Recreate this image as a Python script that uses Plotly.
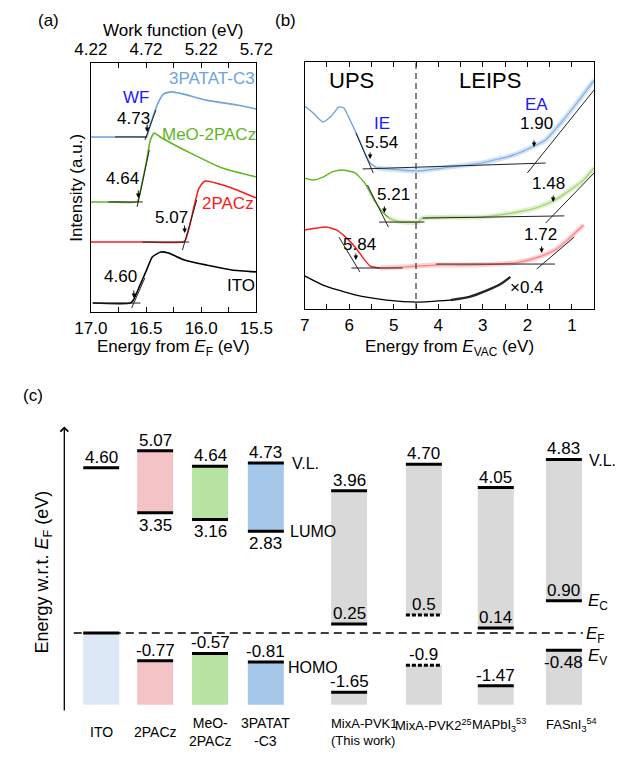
import plotly.graph_objects as go

W, H = 632, 757
FONT = "Liberation Sans, Arial, sans-serif"

# ---------------- Panel (a): secondary-electron cutoff (UPS) ----------------
a_E_3patat = [17.0, 16.777, 16.554, 16.494, 16.469, 16.426, 16.383, 16.340, 16.272, 16.169, 15.955, 15.672, 15.500]
a_I_3patat = [0.703, 0.703, 0.703, 0.703, 0.739, 0.799, 0.847, 0.876, 0.884, 0.876, 0.851, 0.831, 0.815]
a_E_meo = [17.0, 16.811, 16.580, 16.563, 16.529, 16.494, 16.460, 16.426, 16.383, 16.323, 16.100, 15.809, 15.500]
a_I_meo = [0.442, 0.442, 0.442, 0.462, 0.530, 0.610, 0.691, 0.719, 0.707, 0.691, 0.639, 0.578, 0.542]
a_E_2pacz = [17.0, 16.529, 16.160, 16.143, 16.109, 16.066, 16.023, 15.980, 15.955, 15.869, 15.723, 15.612, 15.500]
a_I_2pacz = [0.281, 0.281, 0.281, 0.289, 0.337, 0.422, 0.494, 0.522, 0.526, 0.518, 0.498, 0.478, 0.458]
a_E_ito = [16.983, 16.640, 16.614, 16.554, 16.494, 16.443, 16.366, 16.297, 16.152, 15.955, 15.723, 15.500]
a_I_ito = [0.036, 0.036, 0.048, 0.108, 0.169, 0.221, 0.241, 0.237, 0.209, 0.189, 0.169, 0.161]
# fitted baseline / tangent segments (E, I)
a_fit_E = [[16.78, 16.49], [16.51, 16.41], [16.84, 16.53], [16.58, 16.47],
           [16.53, 16.11], [16.17, 16.04], [16.98, 16.55], [16.63, 16.51]]
a_fit_I = [[0.703, 0.703], [0.691, 0.811], [0.442, 0.442], [0.422, 0.651],
           [0.281, 0.281], [0.249, 0.450], [0.036, 0.036], [0.016, 0.137]]
a_wf_values = ["4.73", "4.64", "5.07", "4.60"]
a_bottom_ticks = [17.0, 16.75, 16.5, 16.25, 16.0, 15.75, 15.5]
a_bottom_labels = ["17.0", "", "16.5", "", "16.0", "", "15.5"]
a_top_ticks = [4.22, 4.47, 4.72, 4.97, 5.22, 5.47, 5.72]
a_top_labels = ["4.22", "", "4.72", "", "5.22", "", "5.72"]

# ---------------- Panel (b): UPS / LEIPS ----------------
b_E_3patat_ups = [7.00, 6.81, 6.59, 6.40, 6.23, 6.12, 5.95, 5.80, 5.65, 5.53, 5.38]
b_I_3patat_ups = [0.822, 0.794, 0.757, 0.781, 0.818, 0.814, 0.753, 0.696, 0.632, 0.591, 0.571]
b_E_3patat_n = [5.38, 5.16, 4.46, 3.73, 3.03, 2.32, 1.89, 1.59, 1.25, 0.89, 0.50]
b_I_3patat_n = [0.571, 0.567, 0.559, 0.575, 0.591, 0.623, 0.656, 0.684, 0.753, 0.834, 0.927]
b_E_meo_ups = [7.00, 6.81, 6.59, 6.38, 6.17, 5.87, 5.65, 5.44, 5.23, 5.10]
b_I_meo_ups = [0.530, 0.522, 0.534, 0.555, 0.563, 0.551, 0.510, 0.441, 0.389, 0.368]
b_E_meo_n = [5.10, 5.01, 4.80, 4.46, 4.35, 3.73, 3.03, 2.32, 1.74, 1.38, 1.04, 0.74, 0.50]
b_I_meo_n = [0.368, 0.360, 0.352, 0.352, 0.368, 0.372, 0.372, 0.389, 0.413, 0.441, 0.482, 0.522, 0.571]
b_E_2pacz_ups = [7.00, 6.72, 6.51, 6.29, 6.08, 5.87, 5.65, 5.53, 5.31]
b_I_2pacz_ups = [0.320, 0.328, 0.332, 0.320, 0.291, 0.251, 0.198, 0.174, 0.166]
b_E_2pacz_n = [5.31, 4.80, 4.09, 3.39, 2.66, 2.17, 1.74, 1.38, 1.10, 0.74]
b_I_2pacz_n = [0.166, 0.170, 0.178, 0.178, 0.182, 0.190, 0.211, 0.239, 0.279, 0.340]
b_E_ito = [7.00, 6.59, 5.87, 5.16, 4.46, 3.73, 3.30, 2.88, 2.60, 2.38]
b_I_ito = [0.134, 0.097, 0.057, 0.036, 0.028, 0.036, 0.049, 0.077, 0.101, 0.130]
b_fit_E = [[5.85, 5.46], [5.70, 1.59], [2.00, 0.50],
           [5.59, 5.12], [5.33, 4.31], [4.35, 1.17], [1.59, 0.50],
           [6.23, 5.76], [5.95, 4.80], [4.05, 1.38], [1.79, 0.95]]
b_fit_I = [[0.713, 0.551], [0.567, 0.591], [0.551, 0.887],
           [0.502, 0.332], [0.352, 0.352], [0.368, 0.377], [0.348, 0.551],
           [0.291, 0.150], [0.166, 0.166], [0.182, 0.182], [0.162, 0.291]]
b_ticks = [7, 6.5, 6, 5.5, 5, 4.5, 4, 3.5, 3, 2.5, 2, 1.5, 1, 0.5]
b_tick_labels = ["7", "", "6", "", "5", "", "4", "", "3", "", "2", "", "1", ""]

# ---------------- Panel (c): energy level diagram ----------------
materials = ["ITO", "2PACz", "MeO-<br>2PACz", "3PATAT<br>-C3"]
materials_pvk = ["MixA-PVK1<br>(This work)", "MixA-PVK2<sup>25</sup>",
                 "MAPbI<sub>3</sub><sup>53</sup>", "FASnI<sub>3</sub><sup>54</sup>"]
vl = [4.60, 5.07, 4.64, 4.73, 3.96, 4.70, 4.05, 4.83]
vl_txt = ["4.60", "5.07", "4.64", "4.73", "3.96", "4.70", "4.05", "4.83"]
lumo = [None, 3.35, 3.16, 2.83, 0.25, 0.5, 0.14, 0.90]
lumo_txt = [None, "3.35", "3.16", "2.83", "0.25", "0.5", "0.14", "0.90"]
homo = [0.0, -0.77, -0.57, -0.81, -1.65, -0.9, -1.47, -0.48]
homo_txt = [None, "-0.77", "-0.57", "-0.81", "-1.65", "-0.9", "-1.47", "-0.48"]
bar_floor = -2.0

# layout (positions / styles)
slot_x = [89, 146, 204, 263, 351, 430, 506, 578]
pvk_label_left = [330, 397, 479, 557]
bar_w = 38
fills = ["#dce8f5", "#f4c3c6", "#b7e4a2", "#a5c8ea", "#d9d9d9", "#d9d9d9", "#d9d9d9", "#d9d9d9"]
dashed = [False, False, False, False, False, True, False, False]
lumo_below = [False, True, True, True, False, False, False, False]
homo_below = [False, False, False, False, False, False, False, True]

C_BLUE = "#6fa3dc"
C_GREEN = "#62b61f"
C_RED = "#ff1a1a"
C_GREEN_L = "#9ed36a"
C_RED_L = "#ff8080"
C_BLUE_L = "#7dafe5"
C_LBL = "#1a1aff"

fig = go.Figure()


def line(x, y, color, width, xa, ya, dash=None, opacity=1.0, shape="spline"):
    fig.add_trace(go.Scatter(x=x, y=y, mode="lines", xaxis=xa, yaxis=ya,
                             line=dict(color=color, width=width, dash=dash, shape=shape, smoothing=0.5),
                             opacity=opacity, showlegend=False, hoverinfo="skip"))


# ---- panel (a) traces
for E, I, c in [(a_E_3patat, a_I_3patat, C_BLUE), (a_E_meo, a_I_meo, C_GREEN),
                (a_E_2pacz, a_I_2pacz, C_RED), (a_E_ito, a_I_ito, "black")]:
    line(E, I, c, 1.6, "x", "y")
for E, I in zip(a_fit_E, a_fit_I):
    line(E, I, "#222222", 1.0, "x", "y", shape="linear")
# invisible trace for top axis
fig.add_trace(go.Scatter(x=[4.22, 5.72], y=[0, 0], mode="markers", marker=dict(opacity=0),
                         xaxis="x2", yaxis="y", showlegend=False, hoverinfo="skip"))

# ---- panel (b) traces
for E, I, c in [(b_E_3patat_n, b_I_3patat_n, C_BLUE_L), (b_E_meo_n, b_I_meo_n, C_GREEN_L),
                (b_E_2pacz_n, b_I_2pacz_n, C_RED_L)]:
    line(E, I, c, 5, "x3", "y3", opacity=0.35)
    line(E, I, c, 1.2, "x3", "y3")
line(b_E_3patat_ups, b_I_3patat_ups, C_BLUE, 1.4, "x3", "y3")
line(b_E_meo_ups, b_I_meo_ups, C_GREEN, 1.4, "x3", "y3")
line(b_E_2pacz_ups, b_I_2pacz_ups, C_RED, 1.4, "x3", "y3")
line(b_E_ito[:6], b_I_ito[:6], "black", 1.4, "x3", "y3")
line(b_E_ito[5:], b_I_ito[5:], "black", 2.4, "x3", "y3", opacity=0.85)
for E, I in zip(b_fit_E, b_fit_I):
    line(E, I, "#222222", 1.0, "x3", "y3", shape="linear")

# ---- panel (c) bars
up_x = [slot_x[i] for i in range(8) if lumo[i] is not None]
up_base = [lumo[i] for i in range(8) if lumo[i] is not None]
up_h = [vl[i] - lumo[i] for i in range(8) if lumo[i] is not None]
up_c = [fills[i] for i in range(8) if lumo[i] is not None]
fig.add_trace(go.Bar(x=up_x, y=up_h, base=up_base, width=bar_w, marker=dict(color=up_c, line=dict(width=0)),
                     xaxis="x4", yaxis="y4", showlegend=False, hoverinfo="skip"))
fig.add_trace(go.Bar(x=slot_x, y=[h - bar_floor for h in homo], base=[bar_floor] * 8, width=bar_w,
                     marker=dict(color=fills, line=dict(width=0)),
                     xaxis="x4", yaxis="y4", showlegend=False, hoverinfo="skip"))

# level lines
for i in range(8):
    xs = [slot_x[i] - bar_w / 2, slot_x[i] + bar_w / 2]
    for lv in (vl[i], lumo[i], homo[i]):
        if lv is None:
            continue
        is_dash = dashed[i] and lv != vl[i]
        line(xs, [lv, lv], "black", 3, "x4", "y4", dash="4px,2px" if is_dash else None, shape="linear")

ann = []


def txt(x, y, s, size=17, color="black", xref="paper", yref="paper", xanchor="center", yanchor="middle",
        angle=0, yshift=0, align="center"):
    ann.append(dict(x=x, y=y, text=s, xref=xref, yref=yref, showarrow=False, xanchor=xanchor, yanchor=yanchor,
                    textangle=angle, yshift=yshift, align=align,
                    font=dict(size=size, color=color, family=FONT)))


def arrow(x, y, xref, yref, length=9):
    ann.append(dict(x=x, y=y, xref=xref, yref=yref, ax=0, ay=-length, showarrow=True, arrowhead=2,
                    arrowsize=0.9, arrowwidth=1, arrowcolor="black", text="", standoff=0,
                    font=dict(size=10)))


def px(xp, yp):
    return xp / W, 1 - yp / H


# panel labels & titles
for s, (xp, yp) in [("(a)", (33, 21)), ("(b)", (284, 21)), ("(c)", (17, 395))]:
    txt(*px(xp, yp), s, size=17)
txt(*px(165, 30), "Work function (eV)", size=17)
txt(*px(165, 348), "Energy from <i>E</i><sub>F</sub> (eV)", size=17)
txt(*px(457, 348), "Energy from <i>E</i><sub>VAC</sub> (eV)", size=17)
txt(*px(62, 188), "Intensity (a.u.)", size=17, angle=-90)
txt(*px(28, 572), "Energy w.r.t. <i>E</i><sub>F</sub> (eV)", size=18, angle=-90)

# panel (a) annotations (data coords)
txt(15.90, 0.936, "3PATAT-C3", color=C_BLUE, xref="x", yref="y")
txt(16.59, 0.863, "WF", color=C_LBL, xref="x", yref="y")
txt(16.61, 0.779, a_wf_values[0], xref="x", yref="y")
arrow(16.49, 0.723, "x", "y")
txt(15.93, 0.711, "MeO-2PACz", color=C_GREEN, xref="x", yref="y")
txt(16.71, 0.538, a_wf_values[1], xref="x", yref="y")
arrow(16.57, 0.458, "x", "y")
txt(15.76, 0.434, "2PACz", color=C_RED, xref="x", yref="y")
txt(16.27, 0.378, a_wf_values[2], xref="x", yref="y")
arrow(16.15, 0.317, "x", "y")
txt(15.64, 0.108, "ITO", xref="x", yref="y")
txt(16.73, 0.141, a_wf_values[3], xref="x", yref="y")
arrow(16.61, 0.056, "x", "y")

# panel (b) annotations
txt(5.95, 0.927, "UPS", size=22, xref="x3", yref="y3")
txt(2.85, 0.927, "LEIPS", size=22, xref="x3", yref="y3")
txt(5.27, 0.749, "IE", color=C_LBL, xref="x3", yref="y3")
txt(5.27, 0.676, "5.54", xref="x3", yref="y3")
arrow(5.53, 0.607, "x3", "y3", 8)
txt(1.79, 0.826, "EA", color=C_LBL, xref="x3", yref="y3")
txt(1.79, 0.753, "1.90", xref="x3", yref="y3")
arrow(1.85, 0.656, "x3", "y3", 8)
txt(5.01, 0.462, "5.21", xref="x3", yref="y3")
arrow(5.21, 0.389, "x3", "y3", 8)
txt(1.53, 0.510, "1.48", xref="x3", yref="y3")
arrow(1.42, 0.433, "x3", "y3", 8)
txt(5.76, 0.263, "5.84", xref="x3", yref="y3")
arrow(5.85, 0.198, "x3", "y3", 8)
txt(1.70, 0.300, "1.72", xref="x3", yref="y3")
arrow(1.68, 0.227, "x3", "y3", 8)
txt(2.0, 0.089, "×0.4", xref="x3", yref="y3")

# panel (c) value labels
for i in range(8):
    txt(slot_x[i], vl[i], vl_txt[i], xref="x4", yref="y4", yanchor="bottom", yshift=-1)
    if lumo[i] is not None:
        if lumo_below[i]:
            txt(slot_x[i], lumo[i], lumo_txt[i], xref="x4", yref="y4", yanchor="top", yshift=-1)
        else:
            txt(slot_x[i], lumo[i], lumo_txt[i], xref="x4", yref="y4", yanchor="bottom", yshift=-1)
    if homo_txt[i] is not None:
        if homo_below[i]:
            txt(slot_x[i], homo[i], homo_txt[i], xref="x4", yref="y4", yanchor="top", yshift=-1)
        else:
            txt(slot_x[i], homo[i], homo_txt[i], xref="x4", yref="y4", yanchor="bottom", yshift=-1)

# side labels
txt(288, 4.73, "V.L.", size=16, xref="x4", yref="y4", xanchor="left")
txt(286, 2.83, "LUMO", size=16, xref="x4", yref="y4", xanchor="left")
txt(284, -0.95, "HOMO", size=16, xref="x4", yref="y4", xanchor="left")
txt(602, 4.79, "V.L.", size=16, xref="x4", yref="y4", xanchor="left")
txt(601, 0.86, "<i>E</i><sub>C</sub>", size=17, xref="x4", yref="y4", xanchor="left")
txt(599, -0.05, "<i>E</i><sub>F</sub>", size=17, xref="x4", yref="y4", xanchor="left")
txt(601, -0.67, "<i>E</i><sub>V</sub>", size=17, xref="x4", yref="y4", xanchor="left")

# category labels
for i, m in enumerate(materials):
    txt(slot_x[i], 1 - 732 / H, m, size=14, xref="x4", yref="paper")
for i, m in enumerate(materials_pvk):
    yp = 732 if i == 0 else 725
    txt(pvk_label_left[i], 1 - yp / H, m, size=13, xref="x4", yref="paper", xanchor="left", align="left")

# energy axis arrow
ann.append(dict(x=50, y=5.75, xref="x4", yref="y4", ax=50, ay=-2.2, axref="x4", ayref="y4",
                showarrow=True, arrowhead=4, arrowsize=1.2, arrowwidth=1.3, arrowcolor="black", text="",
                font=dict(size=10)))

shapes = [
    dict(type="line", xref="x3", yref="paper", x0=4.5, x1=4.5, y0=1 - 309 / H, y1=1 - 62 / H,
         line=dict(color="#333333", width=1.2, dash="6px,4px")),
    dict(type="line", xref="x4", yref="y4", x0=60, x1=598, y0=0, y1=0,
         line=dict(color="black", width=1.5, dash="8px,5px")),
]

tick_font = dict(size=17, family=FONT, color="black")
axis_common = dict(showgrid=False, zeroline=False, showline=True, linecolor="black", linewidth=1.2,
                   ticks="inside", ticklen=5, tickcolor="black", tickfont=tick_font)

fig.update_layout(
    width=W, height=H, margin=dict(l=0, r=0, t=0, b=0), autosize=False,
    paper_bgcolor="white", plot_bgcolor="rgba(0,0,0,0)", barmode="overlay",
    font=dict(family=FONT, color="black"),
    xaxis=dict(domain=[78 / W, 253 / W], range=[17.0, 15.5], anchor="y", tickmode="array",
               tickvals=a_bottom_ticks, ticktext=a_bottom_labels, **axis_common),
    xaxis2=dict(overlaying="x", side="top", anchor="y", range=[4.22, 5.72], tickmode="array",
                tickvals=a_top_ticks, ticktext=a_top_labels, **axis_common),
    yaxis=dict(domain=[1 - 312 / H, 1 - 63 / H], range=[0, 1], showticklabels=False, anchor="x",
               showgrid=False, zeroline=False, showline=True, mirror=True, linecolor="black", linewidth=1.2,
               ticks=""),
    xaxis3=dict(domain=[304 / W, 610 / W], range=[7, 0.5], anchor="y3", tickmode="array",
                tickvals=b_ticks, ticktext=b_tick_labels, mirror="ticks", **axis_common),
    yaxis3=dict(domain=[1 - 309 / H, 1 - 62 / H], range=[0, 1], showticklabels=False, anchor="x3",
                showgrid=False, zeroline=False, showline=True, mirror=True, linecolor="black", linewidth=1.2,
                ticks=""),
    xaxis4=dict(domain=[0, 1], range=[0, W], anchor="y4", visible=False),
    yaxis4=dict(domain=[1 - 712 / H, 1 - 425 / H], range=[-2.2, 5.79], anchor="x4", visible=False),
    annotations=ann, shapes=shapes,
)

fig.write_html("out.html")
